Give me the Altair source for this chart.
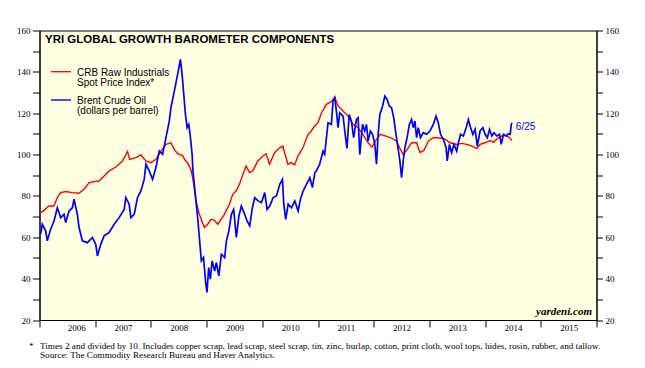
import altair as alt
import pandas as pd

# ---------------- data ----------------
crb_t = [2006.02, 2006.08, 2006.17, 2006.26, 2006.32, 2006.38, 2006.47, 2006.59, 2006.71, 2006.80,
         2006.89, 2006.98, 2007.07, 2007.16, 2007.25, 2007.37, 2007.49, 2007.58, 2007.62, 2007.73,
         2007.82, 2007.91, 2008.00, 2008.09, 2008.18, 2008.27, 2008.36, 2008.42, 2008.48, 2008.57,
         2008.61, 2008.67, 2008.72, 2008.75, 2008.81, 2008.87, 2008.96, 2009.02, 2009.08, 2009.14,
         2009.20, 2009.26, 2009.32, 2009.41, 2009.47, 2009.53, 2009.59, 2009.65, 2009.71, 2009.77,
         2009.83, 2009.92, 2010.01, 2010.07, 2010.13, 2010.22, 2010.31, 2010.37, 2010.40, 2010.46,
         2010.52, 2010.58, 2010.64, 2010.73, 2010.82, 2010.88, 2010.94, 2011.00, 2011.06, 2011.15,
         2011.24, 2011.30, 2011.36, 2011.45, 2011.54, 2011.63, 2011.72, 2011.81, 2011.90, 2011.97,
         2012.05, 2012.12, 2012.23, 2012.32, 2012.41, 2012.47, 2012.53, 2012.59, 2012.68, 2012.77,
         2012.83, 2012.90, 2012.98, 2013.07, 2013.19, 2013.28, 2013.37, 2013.49, 2013.58, 2013.67,
         2013.76, 2013.85, 2013.91, 2014.00, 2014.09, 2014.15, 2014.24, 2014.33, 2014.42, 2014.48]
crb_v = [71.9, 73.0, 75.1, 75.1, 79.2, 81.6, 82.1, 81.6, 81.3, 83.2,
         86.4, 86.9, 87.2, 89.6, 92.1, 94.0, 96.9, 101.4, 97.7, 98.5,
         99.8, 96.9, 96.1, 97.7, 101.7, 104.9, 105.7, 102.5, 100.4, 99.5,
         97.5, 95.5, 92.5, 88.8, 77.6, 71.1, 64.7, 66.3, 68.7, 68.2,
         66.3, 68.7, 71.1, 76.0, 80.8, 82.4, 85.6, 90.4, 94.5, 91.3,
         92.1, 96.9, 99.3, 100.4, 95.3, 100.9, 103.3, 104.1, 100.9, 95.3,
         96.1, 95.0, 99.3, 103.3, 109.8, 111.4, 113.8, 115.4, 120.0, 124.3,
         125.6, 127.8, 123.5, 121.1, 118.6, 114.6, 113.0, 109.5, 105.7, 103.6,
         107.4, 109.8, 108.8, 108.0, 106.5, 103.0, 100.0, 102.0, 105.7, 105.7,
         101.0, 102.0, 106.5, 108.2, 108.0, 107.4, 105.7, 104.9, 105.4, 104.9,
         104.1, 103.0, 104.9, 105.7, 106.8, 105.9, 108.2, 109.3, 108.6, 106.8]

brent_t = [2006.02, 2006.05, 2006.11, 2006.14, 2006.20, 2006.26, 2006.32, 2006.38, 2006.44, 2006.47,
           2006.53, 2006.59, 2006.62, 2006.68, 2006.71, 2006.77, 2006.86, 2006.95, 2007.01, 2007.04,
           2007.10, 2007.16, 2007.25, 2007.34, 2007.43, 2007.52, 2007.55, 2007.61, 2007.64, 2007.70,
           2007.76, 2007.82, 2007.88, 2007.91, 2007.97, 2008.03, 2008.09, 2008.15, 2008.21, 2008.27,
           2008.33, 2008.36, 2008.42, 2008.48, 2008.53, 2008.56, 2008.59, 2008.62, 2008.65, 2008.68,
           2008.71, 2008.74, 2008.755, 2008.785, 2008.815, 2008.845, 2008.875, 2008.905, 2008.945, 2008.98,
           2009.007, 2009.037, 2009.067, 2009.10, 2009.145, 2009.175, 2009.22, 2009.265, 2009.325, 2009.355,
           2009.40, 2009.445, 2009.486, 2009.534, 2009.58, 2009.624, 2009.684, 2009.726, 2009.774, 2009.822,
           2009.864, 2009.924, 2009.984, 2010.044, 2010.086, 2010.134, 2010.194, 2010.254, 2010.314, 2010.362,
           2010.386, 2010.42, 2010.464, 2010.524, 2010.584, 2010.643, 2010.685, 2010.733, 2010.793, 2010.853,
           2010.90, 2010.943, 2010.97, 2011.03, 2011.09, 2011.12, 2011.18, 2011.24, 2011.27, 2011.30,
           2011.33, 2011.36, 2011.39, 2011.45, 2011.48, 2011.52, 2011.56, 2011.60, 2011.64, 2011.69,
           2011.72, 2011.75, 2011.80, 2011.84, 2011.87, 2011.90, 2011.94, 2011.98, 2012.02, 2012.05,
           2012.08, 2012.11, 2012.16, 2012.20, 2012.24, 2012.28, 2012.32, 2012.36, 2012.40, 2012.44,
           2012.47, 2012.50, 2012.53, 2012.56, 2012.60, 2012.64, 2012.68, 2012.71, 2012.74, 2012.77,
           2012.80, 2012.84, 2012.89, 2012.95, 2013.01, 2013.07, 2013.12, 2013.16, 2013.20, 2013.25,
           2013.30, 2013.32, 2013.36, 2013.40, 2013.44, 2013.49, 2013.52, 2013.56, 2013.61, 2013.66,
           2013.70, 2013.74, 2013.78, 2013.82, 2013.86, 2013.91, 2013.96, 2014.00, 2014.04, 2014.08,
           2014.12, 2014.16, 2014.21, 2014.26, 2014.29, 2014.33, 2014.38, 2014.42, 2014.45, 2014.47,
           2014.48]
brent_v = [61.5, 66.3, 63.1, 58.3, 63.9, 67.9, 74.3, 69.5, 71.1, 67.1,
           72.7, 74.3, 78.4, 71.1, 64.7, 58.3, 57.4, 59.9, 56.6, 51.0,
           56.6, 60.7, 62.3, 66.3, 69.5, 73.5, 79.2, 76.0, 69.5, 71.1,
           79.2, 82.4, 88.0, 95.3, 92.1, 88.0, 93.7, 101.7, 100.1, 108.2,
           116.2, 122.7, 130.7, 138.8, 146.0, 138.8, 129.1, 119.4, 113.0, 114.6,
           108.2, 100.1, 92.1, 84.0, 76.0, 67.9, 58.3, 48.6, 50.2, 38.9,
           33.3, 45.4, 39.7, 48.6, 43.7, 47.8, 41.3, 51.8, 50.2, 58.3,
           63.1, 71.1, 73.5, 59.9, 70.3, 75.1, 71.1, 67.9, 65.5, 74.3,
           79.2, 77.6, 76.8, 81.6, 73.5, 75.1, 79.2, 80.0, 85.6, 88.0,
           76.0, 68.7, 76.0, 74.3, 77.6, 72.7, 78.4, 82.4, 85.6, 88.8,
           84.0, 91.3, 92.1, 95.3, 101.7, 100.1, 115.4, 114.6, 125.9, 127.5,
           121.1, 113.0, 120.2, 118.6, 111.4, 103.0, 119.4, 116.2, 108.2, 117.0,
           117.8, 100.0, 114.6, 111.4, 114.6, 106.5, 111.4, 109.8, 104.9, 95.3,
           109.8, 119.4, 123.5, 128.3, 126.7, 123.5, 122.7, 117.8, 109.8, 102.5,
           96.9, 88.8, 96.9, 103.3, 108.2, 114.6, 117.0, 113.0, 116.2, 108.2,
           113.0, 108.2, 110.6, 109.8, 111.4, 114.6, 118.6, 115.4, 109.8, 107.4,
           103.3, 96.9, 104.9, 100.9, 104.9, 101.7, 105.7, 109.8, 109.0, 113.0,
           117.0, 113.0, 109.8, 112.2, 104.1, 111.4, 113.0, 109.8, 108.2, 112.2,
           109.0, 110.6, 109.0, 109.8, 104.9, 109.8, 109.0, 110.1, 109.8, 114.6,
           115.4]

year_ticks = list(range(2006, 2017))
y_ticks = list(range(20, 161, 10))
title_text = "YRI GLOBAL GROWTH BAROMETER COMPONENTS"
crb_legend = ["CRB Raw Industrials", "Spot Price Index*"]
brent_legend = ["Brent Crude Oil", "(dollars per barrel)"]
last_label = "6/25"
credit = "yardeni.com"
footnote = [
    "Times 2 and divided by 10. Includes copper scrap, lead scrap, steel scrap, tin, zinc, burlap, cotton, print cloth, wool tops, hides, rosin, rubber, and tallow.",
    "Source: The Commodity Research Bureau and Haver Analytics.",
]

RED = "#FF0000"
BLUE = "#0000FF"
SERIF = "Liberation Serif"
SANS = "Liberation Sans"

crb_df = pd.DataFrame({"t": crb_t, "v": crb_v})
brent_df = pd.DataFrame({"t": brent_t, "v": brent_v})

xs = alt.Scale(domain=[2006, 2016], nice=False, zero=False)
ys = alt.Scale(domain=[20, 160], nice=False, zero=False)

x_enc = alt.X("t:Q", scale=xs, title=None,
              axis=alt.Axis(values=year_ticks, format="d", labelOffset=27.85,
                            labelExpr="datum.value >= 2016 ? '' : datum.label",
                            tickSize=7, labelPadding=-4, grid=False,
                            domainColor="black", tickColor="black",
                            labelFont=SERIF, labelFontSize=9, labelColor="black"))

left_axis = alt.Axis(values=y_ticks, labelExpr="datum.value % 20 == 0 ? datum.label : ''",
                     tickSize=7, labelPadding=2.5, grid=False, orient="left",
                     domainColor="black", tickColor="black",
                     labelFont=SERIF, labelFontSize=9, labelColor="black")
right_axis = alt.Axis(values=y_ticks, labelExpr="datum.value % 20 == 0 ? datum.label : ''",
                      tickSize=6, labelPadding=2.5, grid=False, orient="right",
                      domainColor="black", tickColor="black",
                      labelFont=SERIF, labelFontSize=9, labelColor="black")

crb_line = alt.Chart(crb_df).mark_line(color=RED, strokeWidth=1.4).encode(
    x=x_enc, y=alt.Y("v:Q", scale=ys, title=None, axis=right_axis))
brent_line = alt.Chart(brent_df).mark_line(color=BLUE, strokeWidth=1.7).encode(
    x=x_enc, y=alt.Y("v:Q", scale=ys, title=None, axis=left_axis))

end_df = pd.DataFrame({"t": [brent_t[-1]], "v": [brent_v[-1]], "label": [last_label]})
end_text = alt.Chart(end_df).mark_text(align="left", baseline="middle", dx=4, dy=4,
                                       font=SANS, fontSize=10, color=BLUE).encode(
    x=alt.X("t:Q", scale=xs), y=alt.Y("v:Q", scale=ys, axis=None), text="label:N")

def txt(s, x, y, **kw):
    return alt.Chart(pd.DataFrame({"s": [s]})).mark_text(**kw).encode(
        text="s:N", x=alt.value(x), y=alt.value(y))

title = txt(title_text, 5.5, 12.5, align="left", baseline="alphabetic",
            font=SANS, fontSize=11.5, fontWeight="bold", color="black")

leg = []
leg.append(alt.Chart(pd.DataFrame({"s": ["crb"]})).mark_rule(color=RED, strokeWidth=1.3).encode(
    x=alt.value(11.5), x2=alt.value(31.5), y=alt.value(41.2)))
leg.append(alt.Chart(pd.DataFrame({"s": ["brent"]})).mark_rule(color=BLUE, strokeWidth=1.4).encode(
    x=alt.value(11.5), x2=alt.value(31.5), y=alt.value(69.5)))
for s, yy in zip(crb_legend + brent_legend, [45.3, 55.3, 73.8, 83.8]):
    leg.append(txt(s, 37.5, yy, align="left", baseline="alphabetic",
                   font=SANS, fontSize=10, color="black"))

credit_t = txt(credit, 552.5, 284.5, align="right", baseline="alphabetic",
               font=SERIF, fontSize=11, fontStyle="italic", fontWeight="bold", color="black")

foot = [txt("*", -10.5, 318.5, align="left", baseline="alphabetic", font=SERIF, fontSize=9.2, color="black"),
        txt(footnote[0], 0.5, 318.5, align="left", baseline="alphabetic", font=SERIF, fontSize=9.2, color="black"),
        txt(footnote[1], 0.5, 327.5, align="left", baseline="alphabetic", font=SERIF, fontSize=9.2, color="black")]

chart = alt.layer(crb_line, brent_line, end_text, title, *leg, credit_t, *foot).resolve_axis(
    y="independent"
).properties(
    width=557, height=289.5,
    autosize=alt.AutoSizeParams(type="none"),
    padding={"left": 31.5, "top": 22.5, "right": 40.5, "bottom": 40},
    background="white",
).configure_view(stroke="black", strokeWidth=1, fill="#FFFFE1")

chart.save("out.html", embed_options={"renderer": "svg", "actions": False})
